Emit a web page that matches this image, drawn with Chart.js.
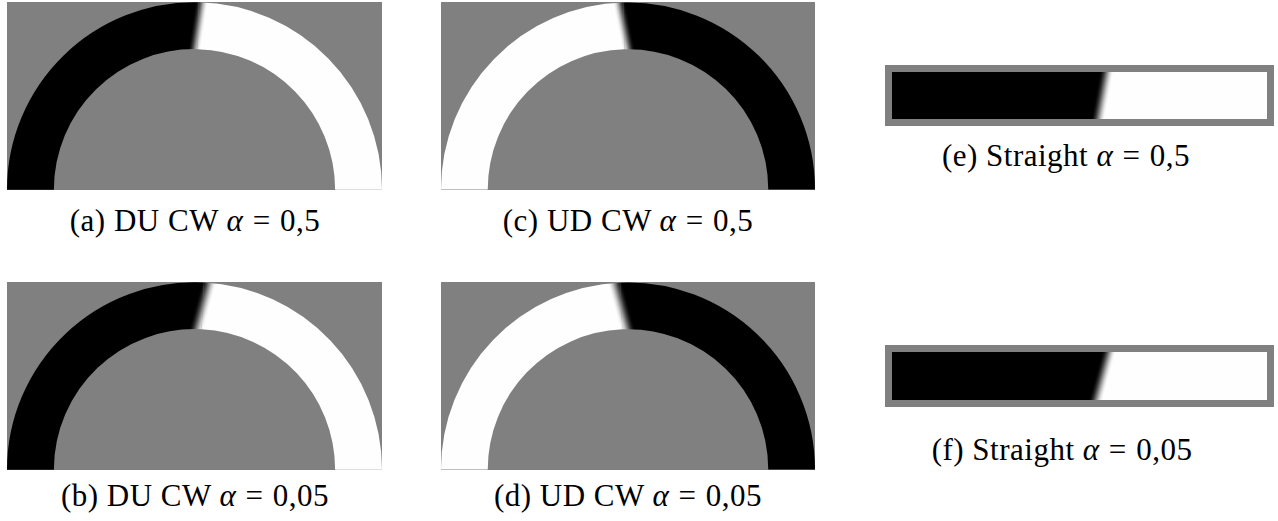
<!DOCTYPE html>
<html>
<head>
<meta charset="utf-8">
<script src="https://cdn.jsdelivr.net/npm/chart.js@4.4.1/dist/chart.umd.min.js"></script>
<style>
  html, body { margin: 0; padding: 0; background: #ffffff; }
  #fig { position: relative; width: 1278px; height: 521px; overflow: hidden; }
  canvas.panel { position: absolute; background: #808080; }
  .cap {
    position: absolute; width: 420px; text-align: center; white-space: nowrap;
    font-family: "Liberation Serif", "DejaVu Serif", serif; font-size: 31px; line-height: 31px;
    letter-spacing: 0.5px; color: #000;
  }
  .cap .rel { margin: 0 0.3em; }
</style>
</head>
<body>
<div id="fig"></div>
<script>
// Sub-figure identifiers and caption text
const panelKeys    = ['a', 'b', 'c', 'd', 'e', 'f'];
const captionTexts = ['(a) DU CW', '(b) DU CW', '(c) UD CW', '(d) UD CW', '(e) Straight', '(f) Straight'];
const alphaLabels  = ['0,5', '0,05', '0,5', '0,05', '0,5', '0,05'];

// Share of each track occupied by the first (left-hand) phase and by the second one
const firstPhase  = [0.507, 0.516, 0.492, 0.487, 0.561, 0.561];
const secondPhase = [0.493, 0.484, 0.508, 0.513, 0.439, 0.439];

// Drawing setup for each sub-figure (canvas box, phase colours, interface tilt and width, caption anchor)
const BLACK = '#000000', WHITE = '#fefefe';
const layout = {
  a: { kind: 'ring', box: [7, 2, 375, 188],     colours: [BLACK, WHITE], tilt: 7.6,  blur: 13, cap: [195, 205] },
  b: { kind: 'ring', box: [7, 282, 375, 188],   colours: [BLACK, WHITE], tilt: 12.5, blur: 15, cap: [195, 480] },
  c: { kind: 'ring', box: [441, 2, 374, 188],   colours: [WHITE, BLACK], tilt: -10,  blur: 13, cap: [628, 205] },
  d: { kind: 'ring', box: [441, 282, 374, 188], colours: [WHITE, BLACK], tilt: -13,  blur: 15, cap: [628, 480] },
  e: { kind: 'bar',  box: [885, 65, 389, 61],   colours: [BLACK, WHITE], tilt: 10.6, blur: 14, cap: [1066, 140] },
  f: { kind: 'bar',  box: [885, 345, 389, 62],  colours: [BLACK, WHITE], tilt: 15.2, blur: 14, cap: [1062, 434] }
};

function hexToRgb(h) {
  const n = parseInt(h.slice(1), 16);
  return [(n >> 16) & 255, (n >> 8) & 255, n & 255];
}

// Soft interface between two phases: a linear ramp centred on (px, py),
// running across a boundary that leans `tilt` degrees off the direction `theta`.
function interfaceGradient(ctx2d, px, py, theta, tiltDeg, blur, c0, c1) {
  const a = theta + tiltDeg * Math.PI / 180;
  const nx = -Math.sin(a), ny = Math.cos(a);
  const g = ctx2d.createLinearGradient(px - nx * blur / 2, py - ny * blur / 2,
                                       px + nx * blur / 2, py + ny * blur / 2);
  const A = hexToRgb(c0), B = hexToRgb(c1);
  const steps = 12;
  for (let i = 0; i <= steps; i++) {
    const t = i / steps;
    const s = 0.5 - 0.5 * Math.cos(Math.PI * t);
    const mix = A.map((v, k) => Math.round(v + (B[k] - v) * s));
    g.addColorStop(t, `rgb(${mix[0]},${mix[1]},${mix[2]})`);
  }
  return g;
}

const fig = document.getElementById('fig');

const baseOptions = {
  responsive: false,
  animation: false,
  events: [],
  plugins: { legend: { display: false }, tooltip: { enabled: false }, title: { display: false } }
};

panelKeys.forEach((key, i) => {
  const cfg = layout[key];
  const [left, top, w, h] = cfg.box;
  const canvas = document.createElement('canvas');
  canvas.className = 'panel';
  canvas.width = w; canvas.height = h;
  canvas.style.left = left + 'px'; canvas.style.top = top + 'px';
  canvas.style.width = w + 'px'; canvas.style.height = h + 'px';
  fig.appendChild(canvas);

  const first = firstPhase[i], second = secondPhase[i];
  const share = first / (first + second);

  if (cfg.kind === 'ring') {
    const ringFill = (c) => {
      const chart = c.chart;
      const ctl = chart.getDatasetMeta(0).controller;
      const area = chart.chartArea;
      if (!area || !ctl || !ctl.outerRadius) return cfg.colours[c.dataIndex];
      const cx = (area.left + area.right) / 2 + ctl.offsetX;
      const cy = (area.top + area.bottom) / 2 + ctl.offsetY;
      const rMid = (ctl.outerRadius + ctl.innerRadius) / 2;
      const theta = -Math.PI + Math.PI * share;
      return interfaceGradient(chart.ctx, cx + rMid * Math.cos(theta), cy + rMid * Math.sin(theta),
                               theta, cfg.tilt, cfg.blur, cfg.colours[0], cfg.colours[1]);
    };
    new Chart(canvas, {
      type: 'doughnut',
      data: {
        labels: ['phase 1', 'phase 2'],
        datasets: [{ data: [first, second], backgroundColor: ringFill, borderWidth: 0, hoverOffset: 0 }]
      },
      options: Object.assign({}, baseOptions, { rotation: -90, circumference: 180, cutout: '75%' })
    });
  } else {
    const barFill = (c) => {
      const chart = c.chart;
      const area = chart.chartArea, xs = chart.scales && chart.scales.x;
      if (!area || !xs) return cfg.colours[c.datasetIndex];
      const px = xs.getPixelForValue(first);
      const py = (area.top + area.bottom) / 2;
      return interfaceGradient(chart.ctx, px, py, -Math.PI / 2, cfg.tilt, cfg.blur,
                               cfg.colours[0], cfg.colours[1]);
    };
    new Chart(canvas, {
      type: 'bar',
      data: {
        labels: [key],
        datasets: [
          { data: [first],  backgroundColor: barFill, borderWidth: 0, barPercentage: 1, categoryPercentage: 1 },
          { data: [second], backgroundColor: barFill, borderWidth: 0, barPercentage: 1, categoryPercentage: 1 }
        ]
      },
      options: Object.assign({}, baseOptions, {
        indexAxis: 'y',
        layout: { padding: 7 },
        scales: {
          x: { display: false, stacked: true, min: 0, max: first + second },
          y: { display: false, stacked: true }
        }
      })
    });
  }

  const cap = document.createElement('div');
  cap.className = 'cap';
  cap.style.left = (cfg.cap[0] - 210) + 'px';
  cap.style.top = cfg.cap[1] + 'px';
  cap.innerHTML = captionTexts[i] + ' <i>α</i><span class="rel">=</span>' + alphaLabels[i];
  fig.appendChild(cap);
});
</script>
</body>
</html>
